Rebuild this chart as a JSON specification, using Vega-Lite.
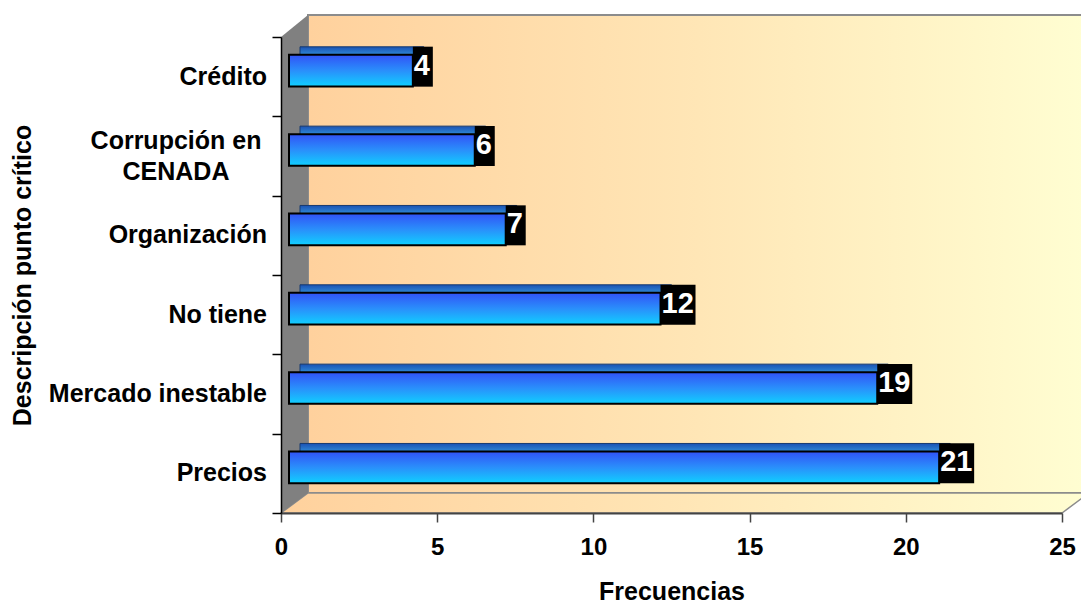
{
  "$schema": "https://vega.github.io/schema/vega-lite/v6.json",
  "width": 781,
  "height": 476,
  "autosize": "none",
  "padding": {"left": 281, "top": 37, "right": 19, "bottom": 93},
  "background": "white",
  "config": {"view": {"stroke": null}, "font": "Liberation Sans"},
  "data": {
    "values": [
      {"cat": "Crédito", "v": 4},
      {"cat": "Corrupción en\nCENADA", "v": 6},
      {"cat": "Organización", "v": 7},
      {"cat": "No tiene", "v": 12},
      {"cat": "Mercado inestable", "v": 19},
      {"cat": "Precios", "v": 21}
    ]
  },
  "resolve": {"scale": {"x": "independent", "y": "independent"}},
  "layer": [
    {
      "data": {"values": [{}]},
      "mark": {
        "type": "rect",
        "fill": {"gradient": "linear", "x1": 0, "y1": 0, "x2": 1, "y2": 0,
          "stops": [{"offset": 0, "color": "#FFD19D"}, {"offset": 0.5, "color": "#FFE6B6"}, {"offset": 1, "color": "#FFFED2"}]},
        "stroke": "#8c8c8c", "strokeWidth": 2,
        "xOffset": 27, "x2Offset": 27, "yOffset": -22, "y2Offset": -20
      },
      "encoding": {
        "x": {"datum": 0, "type": "quantitative", "scale": {"domain": [0, 25]}, "axis": null},
        "x2": {"datum": 25},
        "y": {"datum": 6, "type": "quantitative", "scale": {"domain": [0, 6]}, "axis": null},
        "y2": {"datum": 0}
      }
    },
    {
      "data": {"values": [{}]},
      "mark": {
        "type": "point", "shape": "M0,0L27,-20L808,-20L781,0Z", "size": 4,
        "filled": true, "opacity": 1,
        "fill": {"gradient": "linear", "x1": 0, "y1": 0, "x2": 1, "y2": 0,
          "stops": [{"offset": 0, "color": "#FFD19D"}, {"offset": 0.5, "color": "#FFE6B6"}, {"offset": 1, "color": "#FFFED2"}]},
        "stroke": "#8c8c8c", "strokeWidth": 1.5
      },
      "encoding": {
        "x": {"datum": 0, "type": "quantitative", "scale": {"domain": [0, 25]}, "axis": null},
        "y": {"datum": 0, "type": "quantitative", "scale": {"domain": [0, 6]}, "axis": null}
      }
    },
    {
      "data": {"values": [{}]},
      "mark": {
        "type": "point", "shape": "M0,0L27,-20L27,-498L0,-476Z", "size": 4,
        "filled": true, "opacity": 1, "fill": "#808080", "strokeWidth": 0
      },
      "encoding": {
        "x": {"datum": 0, "type": "quantitative", "scale": {"domain": [0, 25]}, "axis": null},
        "y": {"datum": 0, "type": "quantitative", "scale": {"domain": [0, 6]}, "axis": null}
      }
    },
    {
      "mark": {
        "type": "bar",
        "fill": {"gradient": "linear", "x1": 0, "y1": 0, "x2": 0, "y2": 1,
          "stops": [{"offset": 0, "color": "#1a52b4"}, {"offset": 0.25, "color": "#2f88d6"}, {"offset": 1, "color": "#2f88d6"}]},
        "stroke": "#163a70", "strokeWidth": 1,
        "xOffset": 11, "x2Offset": 11, "yOffset": -8, "y2Offset": -8
      },
      "encoding": {
        "x": {"field": "v", "type": "quantitative", "scale": {"domain": [0, 25], "range": [8, 782]}, "axis": null},
        "y": {"field": "cat", "type": "nominal",
          "scale": {"domain": ["Crédito", "Corrupción en\nCENADA", "Organización", "No tiene", "Mercado inestable", "Precios"],
            "range": [-6, 470], "paddingInner": 0.6, "paddingOuter": 0.3}, "axis": null}
      }
    },
    {
      "mark": {
        "type": "bar",
        "fill": {"gradient": "linear", "x1": 0, "y1": 0, "x2": 0, "y2": 1,
          "stops": [{"offset": 0, "color": "#3152f6"}, {"offset": 0.5, "color": "#2a8ffb"}, {"offset": 1, "color": "#10d0ff"}]},
        "stroke": "#000000", "strokeWidth": 2
      },
      "encoding": {
        "x": {"field": "v", "type": "quantitative", "scale": {"domain": [0, 25], "range": [8, 782]}, "axis": null},
        "y": {"field": "cat", "type": "nominal",
          "scale": {"domain": ["Crédito", "Corrupción en\nCENADA", "Organización", "No tiene", "Mercado inestable", "Precios"],
            "range": [-6, 470], "paddingInner": 0.6, "paddingOuter": 0.3}, "axis": null}
      }
    },
    {
      "transform": [{"filter": "datum.v < 10"}],
      "mark": {"type": "rect", "fill": "#000000", "x2Offset": 20},
      "encoding": {
        "x": {"field": "v", "type": "quantitative", "scale": {"domain": [0, 25], "range": [8, 782]}, "axis": null},
        "x2": {"field": "v"},
        "y": {"field": "cat", "type": "nominal",
          "scale": {"domain": ["Crédito", "Corrupción en\nCENADA", "Organización", "No tiene", "Mercado inestable", "Precios"],
            "range": [-10, 466], "paddingInner": 0.496, "paddingOuter": 0.248}, "axis": null}
      }
    },
    {
      "transform": [{"filter": "datum.v >= 10"}],
      "mark": {"type": "rect", "fill": "#000000", "x2Offset": 35},
      "encoding": {
        "x": {"field": "v", "type": "quantitative", "scale": {"domain": [0, 25], "range": [8, 782]}, "axis": null},
        "x2": {"field": "v"},
        "y": {"field": "cat", "type": "nominal",
          "scale": {"domain": ["Crédito", "Corrupción en\nCENADA", "Organización", "No tiene", "Mercado inestable", "Precios"],
            "range": [-10, 466], "paddingInner": 0.496, "paddingOuter": 0.248}, "axis": null}
      }
    },
    {
      "mark": {"type": "text", "align": "left", "baseline": "middle", "xOffset": 1, "yOffset": -1,
        "fontSize": 29, "fontWeight": "bold", "font": "Liberation Sans", "color": "#ffffff"},
      "encoding": {
        "x": {"field": "v", "type": "quantitative", "scale": {"domain": [0, 25], "range": [8, 782]}, "axis": null},
        "y": {"field": "cat", "type": "nominal",
          "scale": {"domain": ["Crédito", "Corrupción en\nCENADA", "Organización", "No tiene", "Mercado inestable", "Precios"],
            "range": [-10, 466], "paddingInner": 0.496, "paddingOuter": 0.248}, "axis": null},
        "text": {"field": "v", "type": "quantitative"}
      }
    },
    {
      "transform": [{"filter": "indexof(datum.cat, 'CENADA') < 0"}],
      "mark": {"type": "text", "align": "right", "baseline": "middle", "xOffset": -14,
        "fontSize": 25, "fontWeight": "bold", "font": "Liberation Sans", "color": "#000000"},
      "encoding": {
        "x": {"datum": 0, "type": "quantitative", "scale": {"domain": [0, 25]},
          "axis": {"values": [0, 5, 10, 15, 20, 25], "grid": false, "tickSize": 9, "tickWidth": 1.5, "tickColor": "#444444",
            "domainColor": "#444444", "domainWidth": 2, "labelPadding": 13, "labelFlush": false, "labelOverlap": false,
            "labelFont": "Liberation Sans", "labelFontSize": 24, "labelFontWeight": "bold", "labelColor": "#000000",
            "title": "Frecuencias", "titleFont": "Liberation Sans", "titleFontSize": 25, "titleFontWeight": "bold",
            "titleColor": "#000000", "titlePadding": 20, "zindex": 1}},
        "y": {"field": "cat", "type": "nominal",
          "scale": {"domain": ["Crédito", "Corrupción en\nCENADA", "Organización", "No tiene", "Mercado inestable", "Precios"],
            "paddingInner": 0, "paddingOuter": 0},
          "axis": {"labels": false, "tickBand": "extent", "tickSize": 9, "tickWidth": 1.5, "tickColor": "#000000",
            "domainColor": "#000000", "domainWidth": 1.5,
            "title": "Descripción punto crítico", "titleFont": "Liberation Sans", "titleFontSize": 25,
            "titleFontWeight": "bold", "titleColor": "#000000", "titlePadding": 236, "zindex": 1}},
        "text": {"field": "cat", "type": "nominal"}
      }
    },
    {
      "transform": [{"filter": "indexof(datum.cat, 'CENADA') >= 0"}],
      "mark": {"type": "text", "align": "center", "baseline": "middle", "xOffset": -105, "yOffset": -15,
        "lineBreak": "\n", "lineHeight": 31,
        "fontSize": 25, "fontWeight": "bold", "font": "Liberation Sans", "color": "#000000"},
      "encoding": {
        "x": {"datum": 0, "type": "quantitative", "scale": {"domain": [0, 25]}, "axis": null},
        "y": {"field": "cat", "type": "nominal",
          "scale": {"domain": ["Crédito", "Corrupción en\nCENADA", "Organización", "No tiene", "Mercado inestable", "Precios"],
            "paddingInner": 0, "paddingOuter": 0}, "axis": null},
        "text": {"field": "cat", "type": "nominal"}
      }
    }
  ]
}
